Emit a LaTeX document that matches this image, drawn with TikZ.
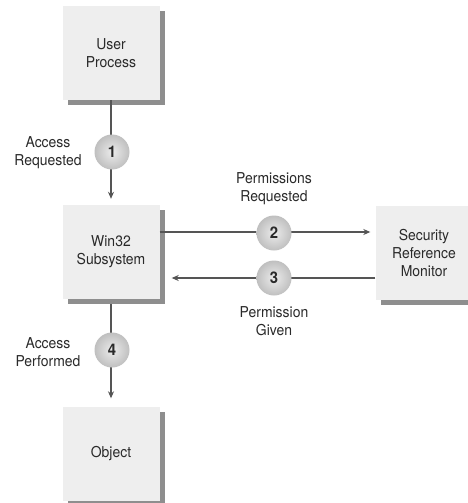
\documentclass[tikz,border=0pt]{standalone}
\usepackage{fontspec}
\setmainfont{TeX Gyre Heros}[FakeStretch=0.93]
\usetikzlibrary{shadows,arrows.meta}
\definecolor{boxfill}{HTML}{EEEEEE}
\definecolor{shadowc}{HTML}{8E8E8E}
\definecolor{txt}{HTML}{2A2A2A}
\definecolor{linec}{HTML}{555555}
\tikzset{
  box/.style={fill=boxfill, minimum width=97pt, minimum height=94pt, inner sep=0pt,
    align=center, text=txt, font=\fontsize{15}{18}\selectfont,
    drop shadow={shadow xshift=5pt, shadow yshift=-5pt, fill=shadowc, opacity=1}},
  lbl/.style={align=center, text=txt, font=\fontsize{15}{18}\selectfont, inner sep=0pt},
  num/.style={circle, minimum size=35pt, inner sep=0pt, inner color=gray!15, outer color=gray!50,
    text=txt, font=\fontsize{16}{16}\selectfont\bfseries},
  arr/.style={draw=linec, line width=1.4pt, -{Stealth[length=7pt,width=6pt]}}
}
\begin{document}
\begin{tikzpicture}[x=1pt,y=-1pt]
\useasboundingbox (0,0) rectangle (468,503);
\fill[white] (0,0) rectangle (468,503);
\node[box] (user) at (111,53) {User\\Process};
\node[box] (win) at (111,252) {Win32\\Subsystem};
\node[box] (srm) at (424,253) {Security\\Reference\\Monitor};
\node[box] (obj) at (111,453.5) {Object};
\draw[arr, shorten >=6pt] (user.south) -- (win.north);
\draw[arr, shorten >=5pt] ([yshift=20pt]win.east) -- ([yshift=20pt]win.east -| srm.west);
\draw[arr, shorten >=12pt] ([yshift=-25pt]srm.west) -- ([yshift=-25pt]srm.west -| win.east);
\draw[arr, shorten >=8pt] ([yshift=-5pt]win.south) -- (obj.north);
\node[num] (n1) at (112,152) {1};
\node[num] (n2) at (274,233) {2};
\node[num] (n3) at (274,278) {3};
\node[num] (n4) at (112,350) {4};
\node[lbl] (l1) at (48,153) {Access\\Requested};
\node[lbl] (l2) at (274,189) {Permissions\\Requested};
\node[lbl] (l3) at (274,321) {Permission\\Given};
\node[lbl] (l4) at (48,352) {Access\\Performed};
\end{tikzpicture}
\end{document}
